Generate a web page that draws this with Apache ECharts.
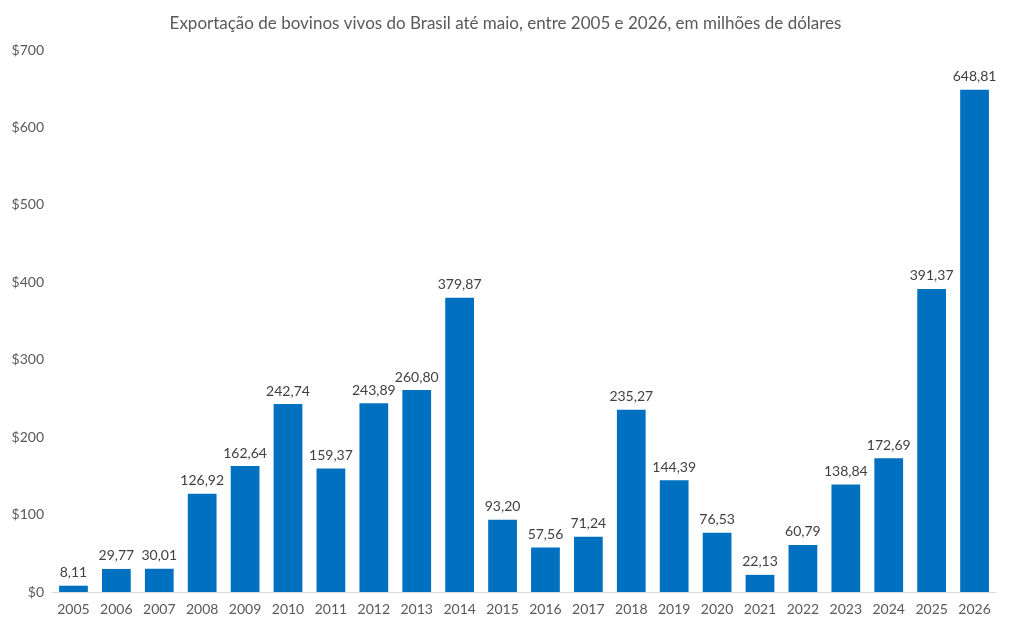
<!DOCTYPE html>
<html>
<head>
<meta charset="utf-8">
<script src="https://cdn.jsdelivr.net/npm/echarts@6/dist/echarts.min.js"></script>
<style>
    html, body { margin: 0; padding: 0; background: #fff; }
    #chart { width: 1011px; height: 629px; }
</style>
</head>
<body>
<div id="chart"></div>
<script>
    let anos = ['2005','2006','2007','2008','2009','2010','2011','2012','2013','2014','2015',
        '2016','2017','2018','2019','2020','2021','2022','2023','2024','2025','2026'];
    let valores = [8.11, 29.77, 30.01, 126.92, 162.64, 242.74, 159.37, 243.89, 260.80, 379.87, 93.20,
        57.56, 71.24, 235.27, 144.39, 76.53, 22.13, 60.79, 138.84, 172.69, 391.37, 648.81];

    let myChart = echarts.init(document.getElementById('chart'));

    let option = {
        textStyle: { fontFamily: 'Lato, "Open Sans", sans-serif' },
        title: {
            text: 'Exportação de bovinos vivos do Brasil até maio, entre 2005 e 2026, em milhões de dólares',
            left: 'center',
            top: 10,
            textStyle: { fontSize: 17, fontWeight: 'normal', color: '#595959' }
        },
        grid: { left: 52, right: 15, top: 50, bottom: 37 },
        xAxis: {
            type: 'category',
            data: anos,
            axisLine: { lineStyle: { color: '#d9d9d9' } },
            axisTick: { show: false },
            axisLabel: { color: '#595959', fontSize: 14, margin: 10 }
        },
        yAxis: {
            type: 'value',
            min: 0,
            max: 700,
            interval: 100,
            splitLine: { show: false },
            axisLabel: {
                color: '#595959',
                fontSize: 14,
                formatter: (v) => '$' + v
            }
        },
        series: [{
            type: 'bar',
            data: valores,
            barCategoryGap: '33%',
            itemStyle: { color: '#0070c0' },
            label: {
                show: true,
                position: 'top',
                distance: 6,
                color: '#404040',
                fontSize: 14,
                formatter: (p) => p.value.toFixed(2).replace('.', ',')
            }
        }]
    };

    myChart.setOption(option);
</script>
</body>
</html>
